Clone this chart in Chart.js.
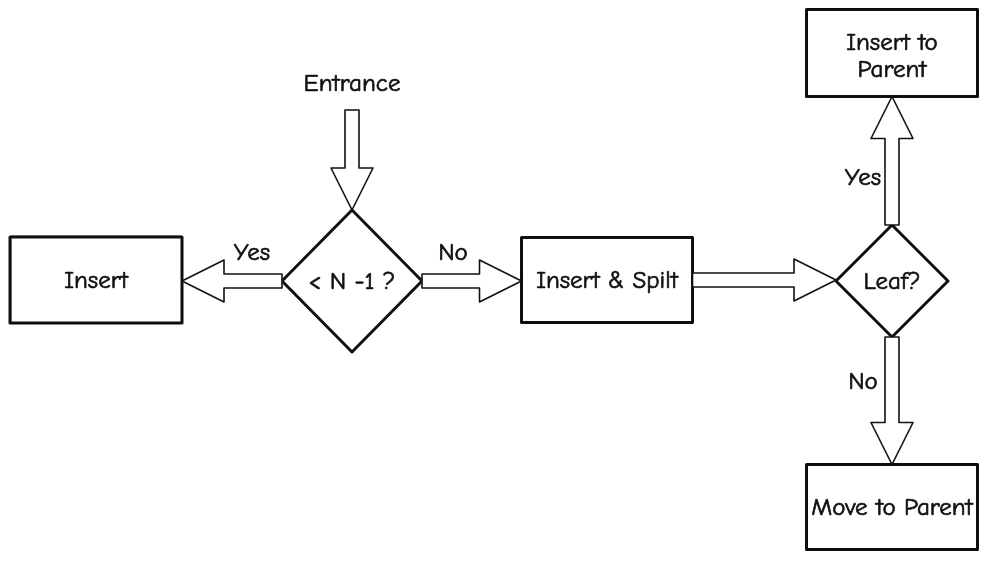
<!DOCTYPE html>
<html>
<head>
<meta charset="utf-8">
<script src="https://cdn.jsdelivr.net/npm/chart.js@4.4.0/dist/chart.umd.min.js"></script>
<style>
html, body { margin: 0; padding: 0; background: #fff; }
#wrap { width: 1000px; height: 573px; }
</style>
</head>
<body>
<div id="wrap"><canvas id="flow"></canvas></div>
<script>
// flow chart nodes, in diagram units (y grows downward)
const nodeNames = ['Entrance', 'Insert', '< N -1 ?', 'Insert & Spilt', 'Leaf?', 'Insert to\nParent', 'Move to Parent'];
const nodeKind = ['text', 'box', 'diamond', 'box', 'diamond', 'box', 'box'];
const nodeX = [352, 96, 352, 607, 892, 892, 892];
const nodeY = [83, 280, 281, 280, 281, 53, 507];
const nodeW = [120, 172, 140, 171, 112, 171, 171];
const nodeH = [54, 86, 142, 85, 112, 87, 85];

// arrows between the nodes
const edgeFrom = [0, 2, 2, 3, 4, 4];
const edgeTo = [2, 1, 3, 4, 5, 6];
const edgeLabels = ['', 'Yes', 'No', '', 'Yes', 'No'];
const labelX = [null, 252, 453, null, 863, 863];
const labelY = [null, 253, 253, null, 178, 382];

const FONT = "'Comic Sans MS', 'Comic Neue', Lato, sans-serif";

function unit(chart) {
    return chart.scales.x.getPixelForValue(1) - chart.scales.x.getPixelForValue(0);
}

function drawArrow(ctx, sx, sy, ex, ey, k) {
    const L = Math.hypot(ex - sx, ey - sy);
    const ux = (ex - sx) / L, uy = (ey - sy) / L;
    const vx = -uy, vy = ux;
    const sw = 7 * k, hw = 21 * k, hl = 42 * k;
    const bx = sx + ux * (L - hl), by = sy + uy * (L - hl);
    ctx.beginPath();
    ctx.moveTo(sx + vx * sw, sy + vy * sw);
    ctx.lineTo(bx + vx * sw, by + vy * sw);
    ctx.lineTo(bx + vx * hw, by + vy * hw);
    ctx.lineTo(ex, ey);
    ctx.lineTo(bx - vx * hw, by - vy * hw);
    ctx.lineTo(bx - vx * sw, by - vy * sw);
    ctx.lineTo(sx - vx * sw, sy - vy * sw);
    ctx.closePath();
    ctx.fillStyle = '#fff';
    ctx.fill();
    ctx.lineWidth = 1.6;
    ctx.strokeStyle = '#111';
    ctx.stroke();
}

function label(ctx, txt, x, y) {
    ctx.fillText(txt, x, y);
    ctx.strokeText(txt, x, y);
}

const flowPlugin = {
    id: 'flow',
    afterDatasetsDraw(chart) {
        const ctx = chart.ctx;
        const pts = chart.getDatasetMeta(0).data;
        const k = unit(chart);
        ctx.save();
        ctx.lineJoin = 'round';

        // nodes
        pts.forEach((p, i) => {
            const w = nodeW[i] * k, h = nodeH[i] * k;
            if (nodeKind[i] === 'box') {
                ctx.fillStyle = '#fff';
                ctx.fillRect(p.x - w / 2, p.y - h / 2, w, h);
                ctx.lineWidth = 3;
                ctx.strokeStyle = '#111';
                ctx.strokeRect(p.x - w / 2, p.y - h / 2, w, h);
                // second pass for a hand drawn feel
                ctx.lineWidth = 1;
                ctx.strokeStyle = 'rgba(0,0,0,0.45)';
                ctx.strokeRect(p.x - w / 2 + 1, p.y - h / 2 - 1, w - 1, h + 1);
            } else if (nodeKind[i] === 'diamond') {
                ctx.beginPath();
                ctx.moveTo(p.x, p.y - h / 2);
                ctx.lineTo(p.x + w / 2, p.y);
                ctx.lineTo(p.x, p.y + h / 2);
                ctx.lineTo(p.x - w / 2, p.y);
                ctx.closePath();
                ctx.fillStyle = '#fff';
                ctx.fill();
                ctx.lineWidth = 3;
                ctx.strokeStyle = '#111';
                ctx.stroke();
            }
        });

        // arrows
        edgeFrom.forEach((f, j) => {
            const t = edgeTo[j];
            const a = pts[f], b = pts[t];
            let sx, sy, ex, ey;
            if (Math.abs(b.x - a.x) > Math.abs(b.y - a.y)) {
                const d = Math.sign(b.x - a.x);
                sx = a.x + d * nodeW[f] * k / 2; sy = a.y;
                ex = b.x - d * nodeW[t] * k / 2; ey = a.y;
            } else {
                const d = Math.sign(b.y - a.y);
                sx = a.x; sy = a.y + d * nodeH[f] * k / 2;
                ex = a.x; ey = b.y - d * nodeH[t] * k / 2;
            }
            drawArrow(ctx, sx, sy, ex, ey, k);
        });

        // texts
        ctx.fillStyle = '#111';
        ctx.strokeStyle = '#111';
        ctx.lineWidth = 0.7;
        ctx.textAlign = 'center';
        ctx.textBaseline = 'middle';
        ctx.font = '25px ' + FONT;
        pts.forEach((p, i) => {
            const lines = nodeNames[i].split('\n');
            const lh = 27;
            const dy = lines.length > 1 ? 3 : 1;
            lines.forEach((ln, n) => {
                label(ctx, ln, p.x, p.y + dy + (n - (lines.length - 1) / 2) * lh);
            });
        });
        edgeLabels.forEach((lab, j) => {
            if (!lab) return;
            label(ctx, lab, chart.scales.x.getPixelForValue(labelX[j]), chart.scales.y.getPixelForValue(labelY[j]));
        });
        ctx.restore();
    }
};

const chart = new Chart(document.getElementById('flow').getContext('2d'), {
    type: 'scatter',
    data: {
        datasets: [{
            label: 'nodes',
            data: nodeX.map((x, i) => ({ x: x, y: nodeY[i] })),
            pointRadius: 0,
            pointHoverRadius: 0
        }]
    },
    options: {
        responsive: true,
        maintainAspectRatio: false,
        animation: false,
        layout: { padding: 0 },
        scales: {
            x: { type: 'linear', min: 0, max: 1000, display: false },
            y: { type: 'linear', min: 0, max: 573, reverse: true, display: false }
        },
        plugins: {
            legend: { display: false },
            tooltip: { enabled: false }
        }
    },
    plugins: [flowPlugin]
});
</script>
</body>
</html>
